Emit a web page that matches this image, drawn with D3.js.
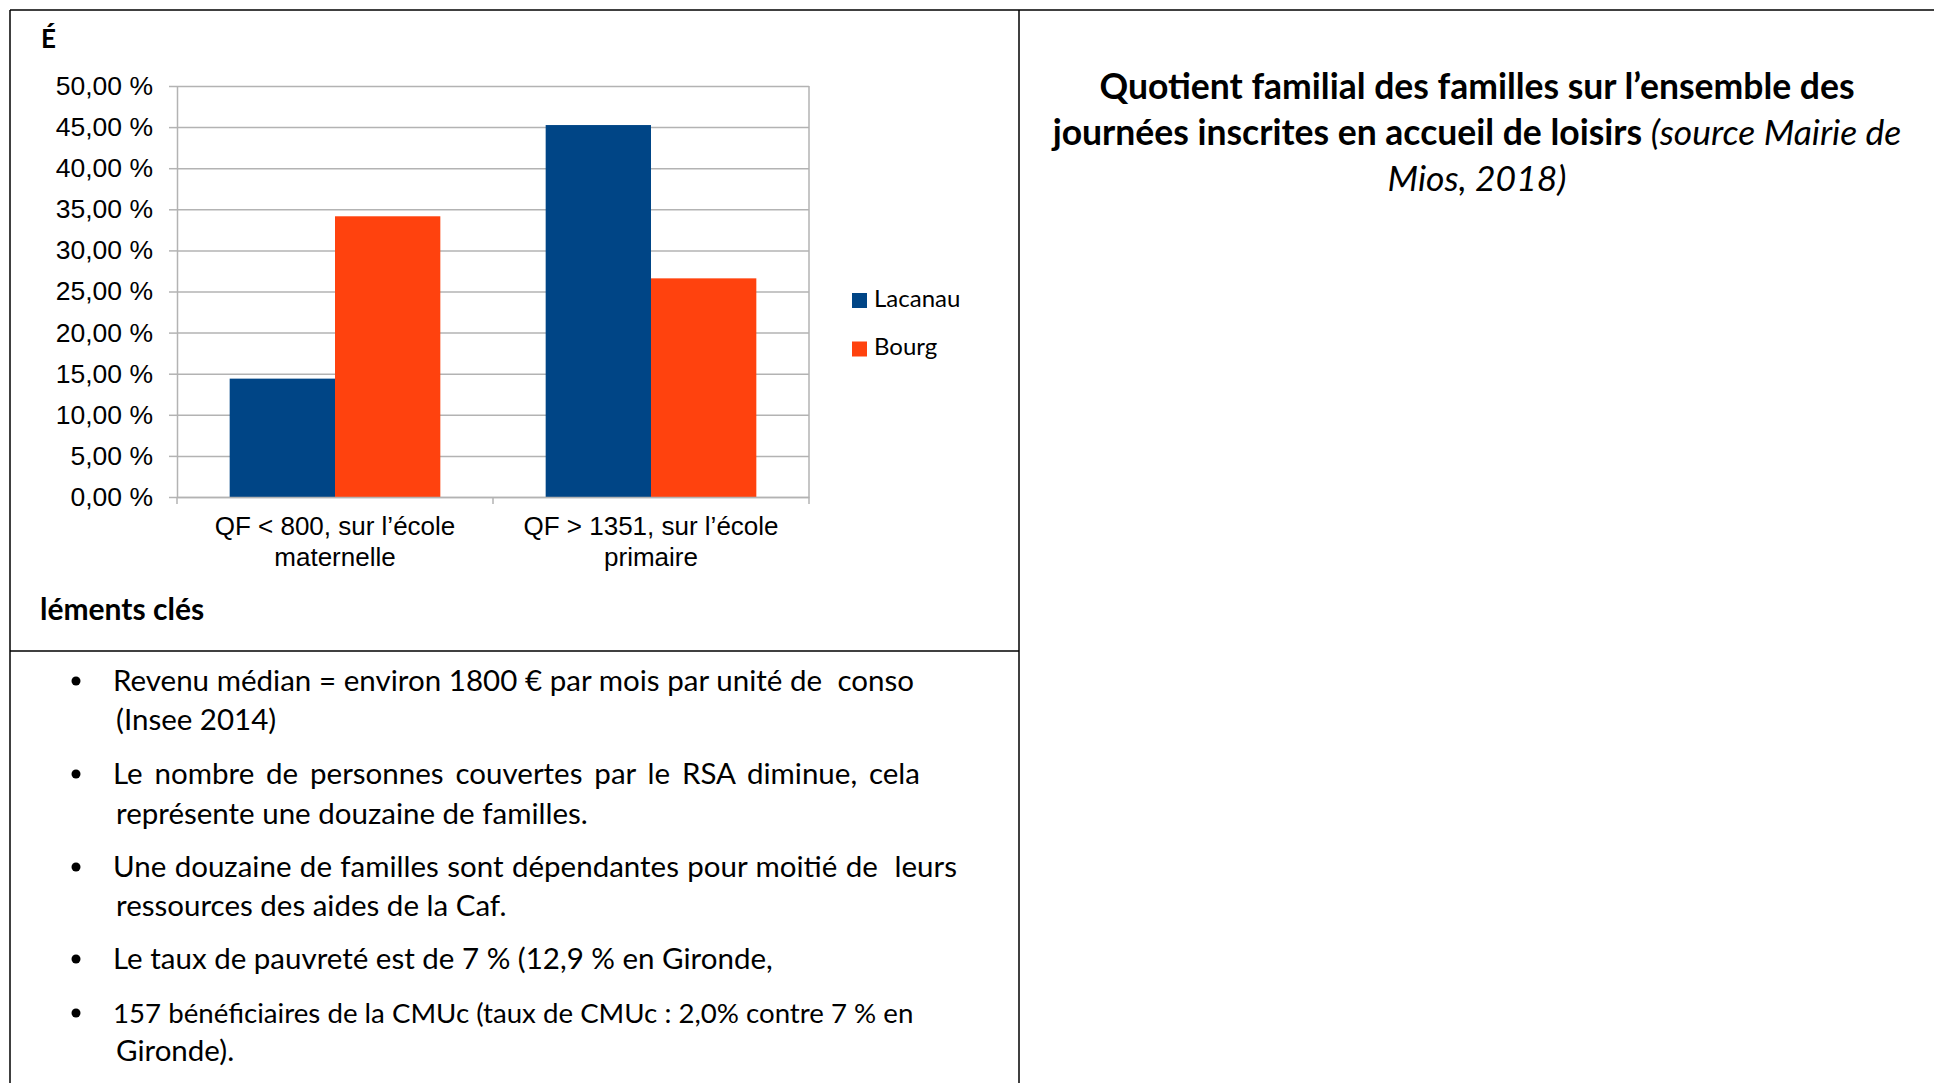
<!DOCTYPE html>
<html>
<head>
<meta charset="utf-8">
<script src="https://cdn.jsdelivr.net/npm/d3@7"></script>
<style>
  html, body { margin: 0; padding: 0; background: #fff; }
  svg { display: block; }
</style>
</head>
<body>
<div id="chart"></div>
<script>
// ---- data ----
const categories = ["QF < 800, sur l’école maternelle", "QF > 1351, sur l’école primaire"];
const categoryLines = [["QF < 800, sur l’école", "maternelle"], ["QF > 1351, sur l’école", "primaire"]];
const series = ["Lacanau", "Bourg"];
const lacanauValues = [14.4, 45.25];
const bourgValues = [34.15, 26.6];
const yTicks = [0, 5, 10, 15, 20, 25, 30, 35, 40, 45, 50];

const titleLines = [
  [{ t: "Quotient familial des familles sur l’ensemble des", b: true }],
  [{ t: "journées inscrites en accueil de loisirs ", b: true }, { t: "(source Mairie de", i: true }],
  [{ t: "Mios, 2018)", i: true }]
];
const bullets = [
  ["Revenu médian = environ 1800 € par mois par unité de  conso", "(Insee 2014)"],
  ["Le nombre de personnes couvertes par le RSA diminue, cela", "représente une douzaine de familles."],
  ["Une douzaine de familles sont dépendantes pour moitié de  leurs", "ressources des aides de la Caf."],
  ["Le taux de pauvreté est de 7 % (12,9 % en Gironde,"],
  ["157 bénéficiaires de la CMUc (taux de CMUc : 2,0% contre 7 % en", "Gironde)."]
];

// ---- layout ----
const W = 1934, H = 1083;
const plot = { left: 177, right: 809, top: 86, bottom: 497 };
const colors = { Lacanau: "#004586", Bourg: "#ff420e" };
const gridColor = "#b3b3b3";
const axisFont = "'Liberation Sans', Arial, sans-serif";
const docFont = "Lato, 'Open Sans', sans-serif";
const bodySize = 29.5;

const svg = d3.select("#chart").append("svg")
    .attr("width", W)
    .attr("height", H);

// Table frame
const frame = svg.append("g").attr("stroke", "#000").attr("stroke-width", 1.5);
frame.append("line").attr("x1", 10).attr("x2", W).attr("y1", 10).attr("y2", 10);
frame.append("line").attr("x1", 10).attr("x2", 10).attr("y1", 10).attr("y2", H);
frame.append("line").attr("x1", 1019).attr("x2", 1019).attr("y1", 10).attr("y2", H);
frame.append("line").attr("x1", 10).attr("x2", 1019).attr("y1", 651).attr("y2", 651);

// Scales
const x0 = d3.scaleBand().domain(categories).range([plot.left, plot.right]).padding(0);
const x1 = d3.scaleBand().domain(series).range([0, x0.bandwidth()]).paddingInner(0).paddingOuter(0.5);
const y = d3.scaleLinear().domain([0, 50]).range([plot.bottom, plot.top]);

const frLocale = d3.formatLocale({ decimal: ",", thousands: " ", grouping: [3], currency: ["", " €"] });
const pct = v => frLocale.format(".2f")(v) + " %";

// Grid
svg.append("g")
    .attr("transform", `translate(${plot.left},0)`)
    .call(d3.axisLeft(y).tickValues(yTicks).tickSize(-(plot.right - plot.left)).tickFormat(""))
    .call(g => g.select(".domain").remove())
    .call(g => g.selectAll("line").attr("stroke", gridColor).attr("stroke-width", 1.5));

// Right border of plot
svg.append("line")
    .attr("x1", plot.right).attr("x2", plot.right)
    .attr("y1", y(50)).attr("y2", y(0))
    .attr("stroke", gridColor).attr("stroke-width", 1.5);

// Bars
const rows = categories.map((c, i) => ({
  cat: c,
  values: [{ key: "Lacanau", value: lacanauValues[i] }, { key: "Bourg", value: bourgValues[i] }]
}));

svg.append("g").selectAll("g")
  .data(rows)
  .join("g")
    .attr("transform", d => `translate(${x0(d.cat)},0)`)
  .selectAll("rect")
  .data(d => d.values)
  .join("rect")
    .attr("x", d => x1(d.key))
    .attr("y", d => y(d.value))
    .attr("width", x1.bandwidth())
    .attr("height", d => y(0) - y(d.value))
    .attr("fill", d => colors[d.key]);

// Y axis
svg.append("g")
    .attr("transform", `translate(${plot.left},0)`)
    .call(d3.axisLeft(y).tickValues(yTicks).tickSize(8).tickSizeOuter(0).tickPadding(16).tickFormat(pct))
    .call(g => g.select(".domain").attr("stroke", gridColor).attr("stroke-width", 1.5))
    .call(g => g.selectAll(".tick line").attr("stroke", gridColor).attr("stroke-width", 1.5))
    .call(g => g.selectAll("text")
        .attr("font-family", axisFont).attr("font-size", 26.5).attr("fill", "#000"));

// X axis
const xAxis = svg.append("g")
    .attr("transform", `translate(0,${plot.bottom})`)
    .call(d3.axisBottom(x0).tickSize(0).tickSizeOuter(0))
    .call(g => g.select(".domain").attr("stroke", gridColor).attr("stroke-width", 1.5));

xAxis.selectAll(".tick text")
    .attr("font-family", axisFont).attr("font-size", 26).attr("fill", "#000")
    .attr("y", 0).attr("dy", null)
    .text(null)
    .each(function(d) {
      const lines = categoryLines[categories.indexOf(d)];
      d3.select(this).selectAll("tspan")
        .data(lines)
        .join("tspan")
          .attr("x", 0)
          .attr("y", (l, k) => 38 + k * 31)
          .text(l => l);
    });

// Boundary ticks below the axis
xAxis.selectAll(".bound")
  .data(categories.map(c => x0(c)).concat([x0.range()[1]]))
  .join("line")
    .attr("class", "bound")
    .attr("x1", d => d).attr("x2", d => d)
    .attr("y1", 0).attr("y2", 7)
    .attr("stroke", gridColor).attr("stroke-width", 1.5);

// Legend
const legend = svg.append("g").selectAll("g")
  .data(series)
  .join("g")
    .attr("transform", (d, i) => `translate(852,${293 + i * 48.5})`);
legend.append("rect").attr("width", 15).attr("height", 15).attr("fill", d => colors[d]);
legend.append("text")
    .attr("x", 22).attr("y", 13.5)
    .attr("font-family", docFont).attr("font-size", 24).attr("fill", "#000")
    .text(d => d);

// Cell headings
svg.append("text")
    .attr("x", 41).attr("y", 48)
    .attr("font-family", docFont).attr("font-weight", 700).attr("font-size", 26)
    .text("É");
svg.append("text")
    .attr("x", 40).attr("y", 620)
    .attr("font-family", docFont).attr("font-weight", 700).attr("font-size", 30)
    .text("léments clés");

// Title in right cell
const title = svg.append("text")
    .attr("font-family", docFont).attr("font-size", 35.5).attr("text-anchor", "middle").attr("fill", "#000");
titleLines.forEach((parts, k) => {
  parts.forEach((p, j) => {
    const ts = title.append("tspan")
        .attr("font-weight", p.b ? 700 : 400)
        .attr("font-style", p.i ? "italic" : "normal")
        .text(p.t);
    if (j === 0) ts.attr("x", 1477).attr("y", 98.5 + k * 46);
  });
});

// Bullet list
const lineEnds = [914, 920, 957, null, 914];
const baselines = [[691, 730], [784, 824], [877, 916], [969], [1023, 1061]];
bullets.forEach((lines, i) => {
  svg.append("circle")
    .attr("cx", 76).attr("cy", baselines[i][0] - 10).attr("r", 4.5).attr("fill", "#000");
  lines.forEach((l, k) => {
    const t = svg.append("text")
        .attr("x", k === 0 ? 113 : 116)
        .attr("y", baselines[i][k])
        .attr("font-family", docFont).attr("font-size", bodySize).attr("fill", "#000")
        .attr("xml:space", "preserve")
        .style("white-space", "pre")
        .text(l);
    // justify first lines of wrapped paragraphs
    if (k === 0 && lines.length > 1 && lineEnds[i]) {
      const natural = t.node().getComputedTextLength();
      const spaces = (l.match(/ /g) || []).length;
      const target = lineEnds[i] - 113;
      if (natural <= target) {
        t.attr("word-spacing", (target - natural) / spaces);
      } else {
        t.attr("font-size", bodySize * target / natural);
      }
    }
  });
});
</script>
</body>
</html>
